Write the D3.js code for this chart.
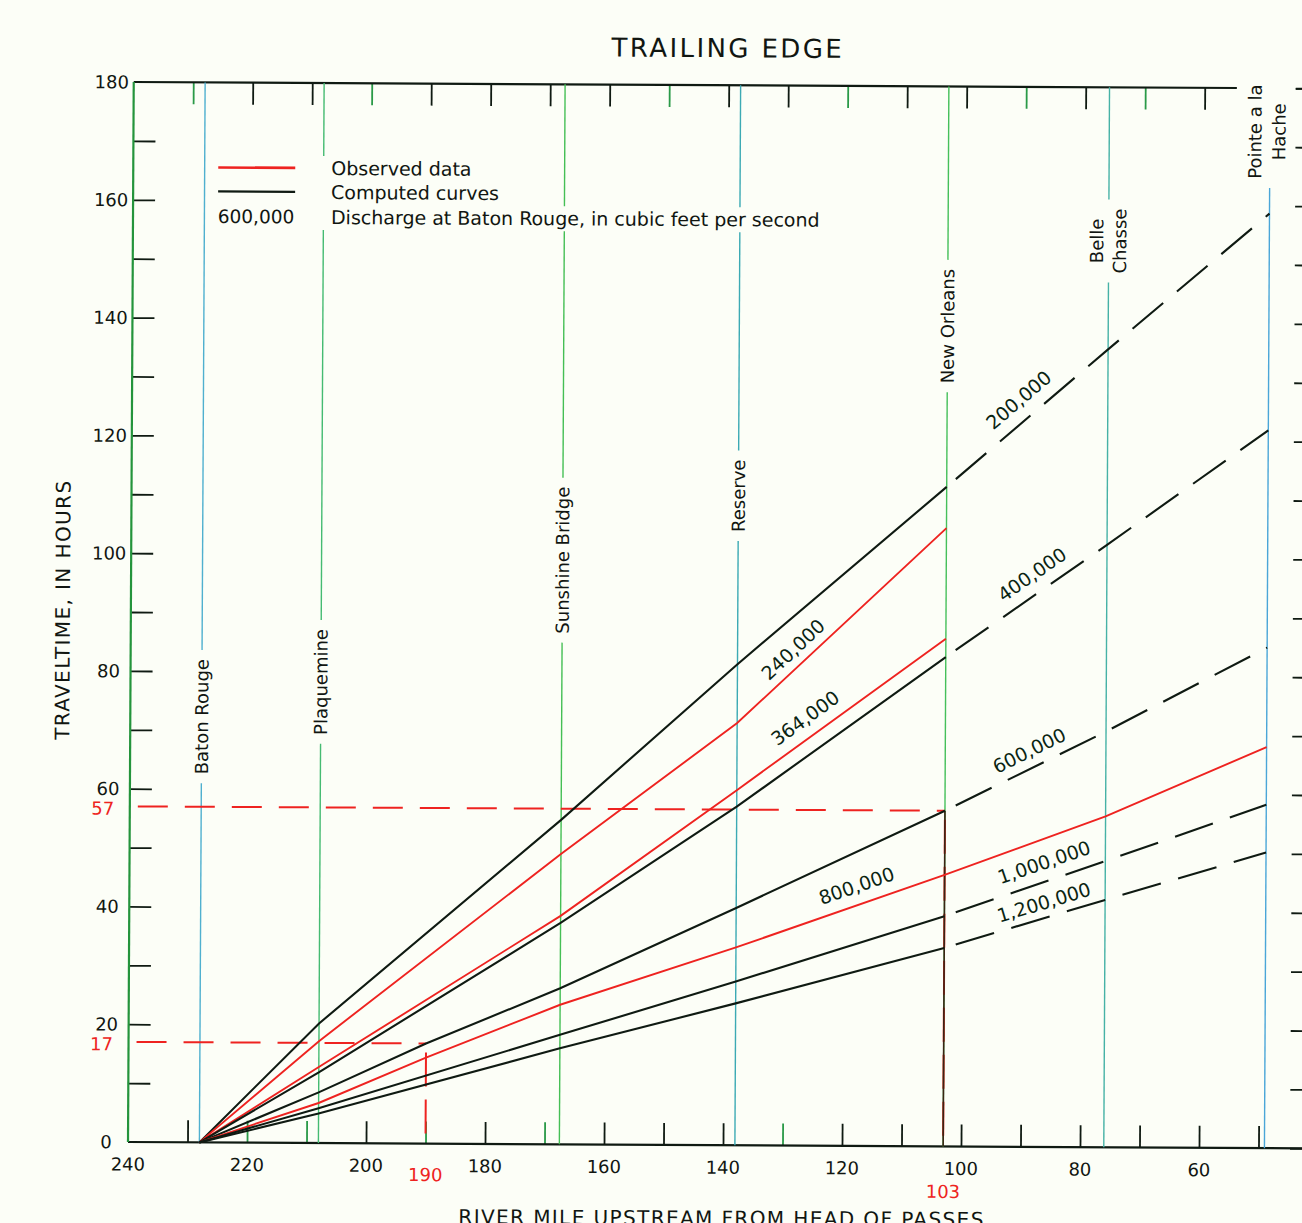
<!DOCTYPE html>
<html>
<head>
<meta charset="utf-8">
<script src="https://cdn.jsdelivr.net/npm/d3@7/dist/d3.min.js"></script>
<style>
  html, body { margin: 0; padding: 0; background: #fcfef7; }
  svg { display: block; }
  text { font-family: "DejaVu Sans", sans-serif; fill: #111611; }
</style>
</head>
<body>
<svg id="chart" width="1302" height="1223"></svg>
<script>
// ---- Gaging stations (river mile above Head of Passes) ----
const stationNames = [["Baton Rouge"], ["Plaquemine"], ["Sunshine Bridge"], ["Reserve"],
                      ["New Orleans"], ["Belle", "Chasse"], ["Pointe a la", "Hache"]];
const stationMiles = [228, 208, 167.5, 138, 103, 76, 49];

// ---- Traveltime of the trailing edge (hours), Baton Rouge to New Orleans ----
const milesStations = [228, 208, 167.5, 138, 103];
const milesWithMile190 = [228, 208, 190, 167.5, 138, 103];
const hours200k  = [0, 20.3, 55.1, 81.7, 112];
const hours240k  = [0, 17.3, 49.3, 71.7, 105];
const hours364k  = [0, 12.9, 38.8, 60.3, 86.2];
const hours400k  = [0, 12.0, 37.6, 57.5, 83.1];
const hours600k  = [0, 8.6, 17, 26.5, 40.3, 57];
const miles800k  = [228, 208, 190, 167.5, 138, 103, 76, 49];
const hours800k  = [0, 6.8, 14.6, 23.7, 33.6, 46.1, 56.2, 68.1];
const hours1000k = [0, 5.9, 18.6, 27.8, 39.1];
const hours1200k = [0, 5.0, 16.3, 24.1, 33.7];

// ---- Computed curves extended below New Orleans ----
const milesExtended = [103, 76, 49];
const ext200k  = [112, 135.5, 158.7];
const ext400k  = [83.1, 102.3, 121.9];
const ext600k  = [57, 70.6, 85.0];
const ext1000k = [39.1, 48.6, 58.3];
const ext1200k = [33.7, 42.0, 50.2];

// ---- Discharge at Baton Rouge, cubic feet per second ----
const dischargeLabels = ["200,000", "240,000", "364,000", "400,000", "600,000", "800,000", "1,000,000", "1,200,000"];

// ---- Worked example: 17 h at mile 190, 57 h at mile 103 ----
const exampleHours = [17, 57];
const exampleMiles = [190, 103];

// ---- Axis labels ----
const xTickLabels = [240, 220, 200, 180, 160, 140, 120, 100, 80, 60];
const yTickLabels = [0, 20, 40, 60, 80, 100, 120, 140, 160, 180];
const legendTexts = ["Observed data", "Computed curves", "Discharge at Baton Rouge, in cubic feet per second"];

// ---- Series assembled from the arrays above ----
const zip = (ms, hs) => ms.map((m, i) => [m, hs[i]]);
const curves = [
  { label: dischargeLabels[0], observed: false, solid: zip(milesStations, hours200k),  ext: zip(milesExtended, ext200k) },
  { label: dischargeLabels[1], observed: true,  solid: zip(milesStations, hours240k),  ext: null },
  { label: dischargeLabels[2], observed: true,  solid: zip(milesStations, hours364k),  ext: null },
  { label: dischargeLabels[3], observed: false, solid: zip(milesStations, hours400k),  ext: zip(milesExtended, ext400k) },
  { label: dischargeLabels[4], observed: false, solid: zip(milesWithMile190, hours600k), ext: zip(milesExtended, ext600k) },
  { label: dischargeLabels[5], observed: true,  solid: zip(miles800k, hours800k),      ext: null },
  { label: dischargeLabels[6], observed: false, solid: zip(milesStations, hours1000k), ext: zip(milesExtended, ext1000k) },
  { label: dischargeLabels[7], observed: false, solid: zip(milesStations, hours1200k), ext: zip(milesExtended, ext1200k) }
];

// label placement along each curve: river mile, and lift above the line (px)
const labelAtMile = [91, 128.7, 126.6, 88.6, 88.9, 117.8, 86.3, 86.3];
const labelLift   = [26, 22, 23, 23, 19, 20, 20, 16];

// station label centre (hours) and per-line horizontal offsets (px)
const stationLabelHour = [72.3, 78.3, 99.2, 110.3, 139.3, 153.9, 172.6];
const stationLabelDx = [[0], [0], [0], [0], [0], [-12, 11], [-15, 9]];
const stationColors = ["#4fb0cf", "#45bb72", "#45bf55", "#3caab4", "#45c05a", "#46b2a6", "#4aa6d8"];

const greenTopTicks = [230, 200, 150, 120, 90, 70];
const greenBottomTicks = [220, 210, 190, 170, 130];

const BLACK = "#0f1a12", RED = "#ee2320", AXIS_GREEN = "#24943c";

// ---- Layout ----
const svg = d3.select("#chart");
svg.append("rect").attr("width", 1302).attr("height", 1223).attr("fill", "#fcfef7");
const g = svg.append("g").attr("transform", "rotate(0.31,128,1142)");

const x = d3.scaleLinear().domain([240, 60]).range([128, 1199]);
const y = d3.scaleLinear().domain([0, 180]).range([1142, 82]);

// ---- Frame and tick marks ----
const bottomAxis = g.append("g").attr("transform", `translate(0,${y(0)})`)
  .call(d3.axisBottom(x).tickValues(d3.range(230, 49, -10)).tickSize(-22).tickFormat(""));
bottomAxis.select(".domain").remove();
bottomAxis.selectAll(".tick line").attr("stroke", d => greenBottomTicks.includes(d) ? "#2a9a48" : BLACK).attr("stroke-width", 1.8);
g.append("line").attr("x1", x(240)).attr("x2", 1340).attr("y1", y(0)).attr("y2", y(0))
  .attr("stroke", BLACK).attr("stroke-width", 2.2);

const topAxis = g.append("g").attr("transform", `translate(0,${y(180)})`)
  .call(d3.axisTop(x).tickValues(d3.range(230, 59, -10)).tickSize(-22).tickFormat(""));
topAxis.select(".domain").remove();
topAxis.selectAll(".tick line").attr("stroke", d => greenTopTicks.includes(d) ? "#2a9a48" : BLACK).attr("stroke-width", 1.8);
g.append("line").attr("x1", x(240)).attr("x2", x(54.6)).attr("y1", y(180)).attr("y2", y(180))
  .attr("stroke", BLACK).attr("stroke-width", 2.2);

const leftAxis = g.append("g").attr("transform", `translate(${x(240)},0)`)
  .call(d3.axisLeft(y).tickValues(d3.range(10, 171, 10)).tickSize(-22).tickFormat(""));
leftAxis.select(".domain").remove();
leftAxis.selectAll(".tick line").attr("stroke", BLACK).attr("stroke-width", 1.8);
g.append("line").attr("x1", x(240)).attr("x2", x(240)).attr("y1", y(0)).attr("y2", y(180))
  .attr("stroke", AXIS_GREEN).attr("stroke-width", 2.2);

const rightAxis = g.append("g").attr("transform", `translate(${x(41)},0)`)
  .call(d3.axisRight(y).tickValues(d3.range(10, 181, 10)).tickSize(-22).tickFormat(""));
rightAxis.select(".domain").attr("stroke", BLACK).attr("stroke-width", 2);
rightAxis.selectAll(".tick line").attr("stroke", BLACK).attr("stroke-width", 1.8);

// ---- Tick labels ----
g.selectAll("text.xlab").data(xTickLabels).join("text").attr("class", "xlab")
  .attr("x", d => x(d)).attr("y", y(0) + 22).attr("text-anchor", "middle")
  .attr("dominant-baseline", "central").style("font-size", "18px").text(d => d);
g.selectAll("text.ylab").data(yTickLabels).join("text").attr("class", "ylab")
  .attr("x", 106).attr("y", d => y(d)).attr("text-anchor", "middle")
  .attr("dominant-baseline", "central").style("font-size", "18px").text(d => d);

// worked-example values in red
g.selectAll("text.yred").data(exampleHours).join("text").attr("class", "yred")
  .attr("x", 101).attr("y", d => y(d) + 2).attr("text-anchor", "middle")
  .attr("dominant-baseline", "central").style("font-size", "18px").style("fill", RED).text(d => d);
g.selectAll("text.xred").data(exampleMiles).join("text").attr("class", "xred")
  .attr("x", d => x(d)).attr("y", (d, i) => y(0) + (i === 0 ? 31 : 45)).attr("text-anchor", "middle")
  .attr("dominant-baseline", "central").style("font-size", "18px").style("fill", RED).text(d => d);

// ---- Titles ----
g.append("text").attr("x", 722).attr("y", 54).attr("text-anchor", "middle")
  .style("font-size", "26px").style("letter-spacing", "2.4px").text("TRAILING EDGE");
g.append("text").attr("x", 722).attr("y", 1222).attr("text-anchor", "middle")
  .style("font-size", "20px").style("letter-spacing", "1.4px").text("RIVER MILE UPSTREAM FROM HEAD OF PASSES");
g.append("text").attr("transform", "translate(60,610) rotate(-90)").attr("text-anchor", "middle")
  .attr("dominant-baseline", "central").style("font-size", "20px").style("letter-spacing", "1.4px")
  .text("TRAVELTIME, IN HOURS");

// ---- Legend ----
const legendRowY = [167, 191, 216];
const legendTextX = 326;
g.append("line").attr("x1", 213).attr("x2", 290).attr("y1", legendRowY[0]).attr("y2", legendRowY[0])
  .attr("stroke", RED).attr("stroke-width", 2.6);
g.append("line").attr("x1", 213).attr("x2", 290).attr("y1", legendRowY[1]).attr("y2", legendRowY[1])
  .attr("stroke", BLACK).attr("stroke-width", 2.2);
g.append("text").attr("x", 251).attr("y", legendRowY[2]).attr("text-anchor", "middle")
  .attr("dominant-baseline", "central").style("font-size", "18.5px").text(dischargeLabels[4]);
const legendNodes = legendTexts.map((t, i) =>
  g.append("text").attr("x", legendTextX).attr("y", legendRowY[i]).attr("dominant-baseline", "central")
    .style("font-size", "19px").text(t).node());
const legendRight = legendNodes.map(n => legendTextX + n.getComputedTextLength());

// ---- Station lines with labels ----
const stationLayer = g.append("g");
stationMiles.forEach((m, i) => {
  const sx = x(m);
  const cy = y(stationLabelHour[i]);
  const lab = stationLayer.append("g").attr("transform", `translate(${sx},${cy}) rotate(-90)`);
  let maxLen = 0;
  stationNames[i].forEach((line, k) => {
    const t = lab.append("text").attr("x", 0).attr("y", stationLabelDx[i][k])
      .attr("text-anchor", "middle").attr("dominant-baseline", "central")
      .style("font-size", "18px").text(line);
    maxLen = Math.max(maxLen, t.node().getComputedTextLength());
  });
  const gaps = [[cy - maxLen / 2 - 9, cy + maxLen / 2 + 9]];
  legendRowY.forEach((ry, r) => {
    if (sx > 205 && sx < legendRight[r] + 6) gaps.push([ry - 12, ry + 13]);
  });
  gaps.sort((a, b) => a[0] - b[0]);
  const merged = [];
  gaps.forEach(gp => {
    const last = merged[merged.length - 1];
    if (last && gp[0] <= last[1] + 1) last[1] = Math.max(last[1], gp[1]);
    else merged.push(gp.slice());
  });
  let start = y(180);
  const segs = [];
  merged.forEach(gp => { if (gp[0] > start) segs.push([start, gp[0]]); start = Math.max(start, gp[1]); });
  if (start < y(0)) segs.push([start, y(0)]);
  segs.forEach(s => stationLayer.append("line").attr("x1", sx).attr("x2", sx)
    .attr("y1", s[0]).attr("y2", s[1]).attr("stroke", stationColors[i]).attr("stroke-width", 1.4));
});

// ---- Worked example guides ----
const guides = g.append("g").attr("stroke", RED).attr("stroke-width", 2).attr("fill", "none");
g.append("line").attr("x1", x(exampleMiles[1])).attr("x2", x(exampleMiles[1]))
  .attr("y1", y(exampleHours[1])).attr("y2", y(0)).attr("stroke", "#3a2414").attr("stroke-width", 1.6);
exampleHours.forEach((h, i) => {
  guides.append("line").attr("x1", x(240) + 8).attr("x2", x(exampleMiles[i]))
    .attr("y1", y(h)).attr("y2", y(h)).attr("stroke-dasharray", "30 17");
  guides.append("line").attr("x1", x(exampleMiles[i])).attr("x2", x(exampleMiles[i]))
    .attr("y1", y(h) + 9).attr("y2", y(0)).attr("stroke-dasharray", "34 13");
});

// ---- Curves ----
const lineGen = d3.line().x(d => x(d[0])).y(d => y(d[1]));
const curveLayer = g.append("g").attr("fill", "none");
curves.forEach(c => {
  curveLayer.append("path").attr("d", lineGen(c.solid))
    .attr("stroke", c.observed ? RED : BLACK).attr("stroke-width", c.observed ? 1.9 : 2.1);
  if (c.ext) {
    curveLayer.append("path").attr("d", lineGen(c.ext))
      .attr("stroke", BLACK).attr("stroke-width", 2.1)
      .attr("stroke-dasharray", "40 18").attr("stroke-dashoffset", 46);
  }
});

// ---- Discharge labels along the curves ----
curves.forEach((c, i) => {
  const pts = c.solid.concat(c.ext ? c.ext.slice(1) : []);
  const m = labelAtMile[i];
  let k = 0;
  while (k < pts.length - 2 && pts[k + 1][0] > m) k++;
  const a = pts[k], b = pts[k + 1];
  const t = (a[0] - m) / (a[0] - b[0]);
  const h = a[1] + t * (b[1] - a[1]);
  const ang = Math.atan2(y(b[1]) - y(a[1]), x(b[0]) - x(a[0])) * 180 / Math.PI;
  g.append("text")
    .attr("transform", `translate(${x(m)},${y(h) - labelLift[i]}) rotate(${ang})`)
    .attr("text-anchor", "middle").attr("dominant-baseline", "central")
    .style("font-size", "19px").style("fill", "#0a2412").text(c.label);
});
</script>
</body>
</html>
